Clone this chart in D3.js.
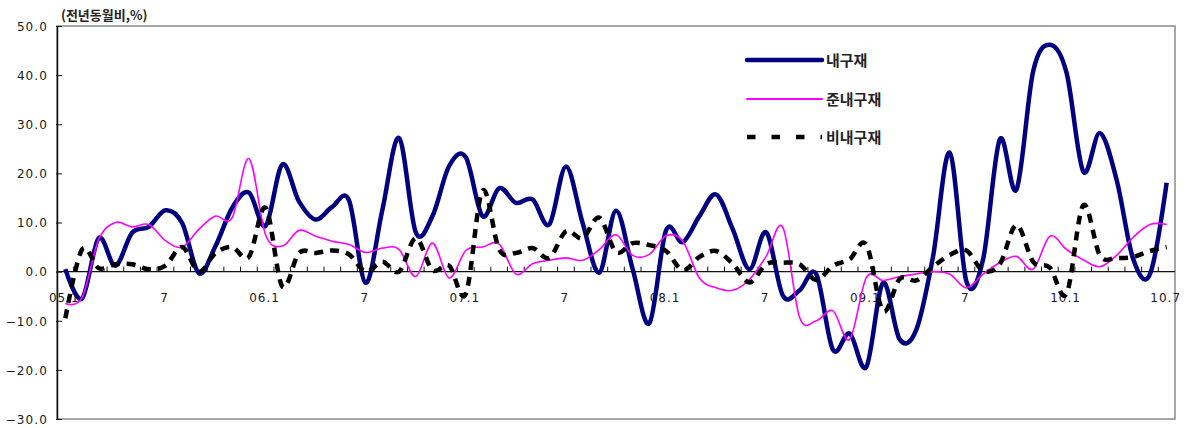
<!DOCTYPE html>
<html><head><meta charset="utf-8">
<script src="https://cdn.jsdelivr.net/npm/d3@7"></script>
<style>body{margin:0;background:#fff} svg{display:block}</style>
</head><body><svg id="c" width="1190" height="428"></svg>
<script>
const months = ["05.1","05.2","05.3","05.4","05.5","05.6","05.7","05.8","05.9","05.10","05.11","05.12",
"06.1","06.2","06.3","06.4","06.5","06.6","06.7","06.8","06.9","06.10","06.11","06.12",
"07.1","07.2","07.3","07.4","07.5","07.6","07.7","07.8","07.9","07.10","07.11","07.12",
"08.1","08.2","08.3","08.4","08.5","08.6","08.7","08.8","08.9","08.10","08.11","08.12",
"09.1","09.2","09.3","09.4","09.5","09.6","09.7","09.8","09.9","09.10","09.11","09.12",
"10.1","10.2","10.3","10.4","10.5","10.6","10.7"];
const tickMonths = ["05.1","05.7","06.1","06.7","07.1","07.7","08.1","08.7","09.1","09.7","10.1","10.7"];
const tickLabels = ["05.1","7","06.1","7","07.1","7","08.1","7","09.1","7","10.1","10.7"];
const yTicks = [50,40,30,20,10,0,-10,-20,-30];
const seriesNames = ["내구재","준내구재","비내구재"];
const durable = [0.5,-5.5,6.8,1.2,7.9,9.1,12.5,9.9,-0.3,5.2,13.0,16.1,
9.3,21.8,14.3,10.6,13.2,14.5,-2.3,12.6,27.2,8.0,11.3,21.5,
23.3,11.3,17.0,14.0,14.7,9.6,21.4,9.9,-0.2,12.4,0.5,-10.5,
8.4,6.0,11.3,15.7,8.6,0.5,8.0,-4.9,-3.8,-0.5,-15.9,-12.6,
-19.4,-2.3,-13.8,-11.8,3.1,24.2,-2.0,2.5,26.9,16.7,40.8,46.2,
40.5,20.4,28.2,18.7,2.5,-0.5,18.1];
const semiDurable = [-6.5,-5.3,6.5,10.0,9.1,9.6,6.3,5.0,8.6,11.3,11.0,23.0,
7.5,5.2,8.4,7.2,6.2,5.5,3.9,4.8,4.5,-1.0,5.8,-1.3,
4.3,5.0,5.6,-0.5,1.6,2.3,2.8,2.3,4.5,7.5,3.3,3.5,
7.3,6.2,-1.3,-3.3,-3.8,-1.6,3.1,9.0,-9.3,-10.0,-8.0,-13.8,
-1.2,-1.8,-1.0,-0.5,0.0,-0.5,-3.3,-0.5,1.8,3.1,0.5,7.2,
4.5,2.4,1.0,3.3,7.0,9.6,9.6];
const nonDurable = [-9.5,4.5,0.7,1.5,1.5,0.5,1.2,5.0,0.0,3.8,5.0,3.0,
13.0,-3.0,3.8,3.8,4.3,3.5,0.0,2.0,0.0,6.8,0.3,1.2,
-4.5,16.5,4.5,3.8,4.8,2.8,8.2,6.8,11.0,4.0,5.8,5.4,
4.2,0.3,3.0,4.2,1.6,-2.2,1.5,1.8,1.5,-1.7,1.2,2.5,
5.5,-8.0,-1.5,-1.8,1.0,3.4,4.3,0.2,1.5,9.5,2.0,0.8,
-4.5,13.5,3.3,2.8,3.0,4.2,5.0];

const svg = d3.select("#c");
const L = 57, R = 1175, T = 26, B = 419;
const x = d3.scaleBand().domain(months).range([L, R]).padding(0);
const y = d3.scaleLinear().domain([-30, 50]).range([B, T]);
const cx = m => x(m) + x.bandwidth() / 2;
const numFont = "'DejaVu Sans', sans-serif";
const krFont = "'Noto Sans CJK KR', sans-serif";

svg.append("rect").attr("width", 1190).attr("height", 428).attr("fill", "#fff");

// plot frame (grey top/right/bottom)
svg.append("rect").attr("x", L).attr("y", T).attr("width", R - L).attr("height", B - T)
  .attr("fill", "none").attr("stroke", "#8a8a8a").attr("stroke-width", 1.5);

// y axis
const gy = svg.append("g").attr("transform", `translate(${L},0)`)
  .call(d3.axisLeft(y).tickValues(yTicks).tickFormat(d3.format(".1f")).tickSizeInner(-5).tickSizeOuter(0).tickPadding(9));
gy.select(".domain").attr("stroke", "#111").attr("stroke-width", 1.5);
gy.selectAll(".tick line").attr("stroke", "#111").attr("stroke-width", 1).attr("x1", -1);
gy.selectAll(".tick text").attr("font-family", numFont).attr("font-size", 12).attr("letter-spacing", "1.1px")
  .attr("fill", "#1a1a1a").attr("dy", "0.36em");

// x axis at zero
const gx = svg.append("g").attr("transform", `translate(0,${y(0)})`);
gx.append("line").attr("x1", L).attr("x2", R).attr("stroke", "#111").attr("stroke-width", 1.2);
gx.selectAll("line.tk").data(months.slice(1)).join("line").attr("class", "tk")
  .attr("x1", d => x(d)).attr("x2", d => x(d)).attr("y1", 0).attr("y2", -5)
  .attr("stroke", "#111").attr("stroke-width", 1);
gx.selectAll("text").data(tickMonths).join("text")
  .attr("x", d => cx(d) - 1).attr("y", 30).attr("text-anchor", "middle")
  .attr("font-family", numFont).attr("font-size", 12).attr("letter-spacing", "1px")
  .attr("fill", "#1a1a1a").text((d, i) => tickLabels[i]);

// title
svg.append("text").attr("x", 61).attr("y", 20).attr("font-family", krFont).attr("font-size", 13)
  .attr("font-weight", 700).attr("fill", "#222").text("(전년동월비,%)");

const line = d3.line().x((d, i) => cx(months[i])).y(d => y(d)).curve(d3.curveCardinal.tension(0));
const styles = [
  {data: durable, color: "#000080", w: 4.5, dash: null, legDash: null},
  {data: semiDurable, color: "#ff00ff", w: 1.6, dash: null, legDash: null},
  {data: nonDurable, color: "#000000", w: 4.5, dash: "9,7", legDash: "8.5,16"}
];
styles.forEach(s => {
  svg.append("path").datum(s.data).attr("d", line).attr("fill", "none")
    .attr("stroke", s.color).attr("stroke-width", s.w).attr("stroke-dasharray", s.dash)
    .attr("stroke-linejoin", "round");
});

// legend
const legY = [60, 99, 137];
styles.forEach((s, i) => {
  svg.append("line").attr("x1", 747).attr("x2", 822).attr("y1", legY[i]).attr("y2", legY[i])
    .attr("stroke", s.color).attr("stroke-width", s.w === 1.6 ? 2 : 4.5)
    .attr("stroke-linecap", s.dash ? "butt" : "round").attr("stroke-dasharray", s.legDash);
  svg.append("text").attr("x", 826).attr("y", legY[i] + 6).attr("font-family", krFont)
    .attr("font-size", 15).attr("font-weight", 700).attr("fill", "#222").text(seriesNames[i]);
});
</script></body></html>
